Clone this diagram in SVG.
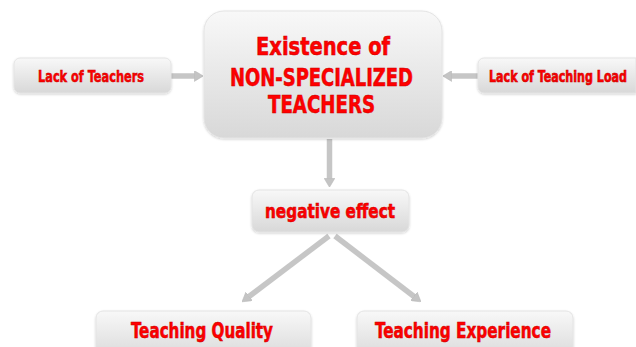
<svg xmlns="http://www.w3.org/2000/svg" width="636" height="347" viewBox="0 0 636 347">
  <defs>
    <linearGradient id="boxFill" x1="0" y1="0" x2="0" y2="1">
      <stop offset="0" stop-color="#f8f8f8"/>
      <stop offset="1" stop-color="#d8d8d8"/>
    </linearGradient>
    <filter id="soft" x="-5%" y="-5%" width="110%" height="115%">
      <feDropShadow dx="0" dy="1" stdDeviation="0.8" flood-color="#000" flood-opacity="0.18"/>
    </filter>
    <marker id="head" viewBox="0 0 10 12" refX="3" refY="6" markerWidth="9" markerHeight="11" markerUnits="userSpaceOnUse" orient="auto">
      <path d="M0,0 L10,6 L0,12 Z" fill="#c4c4c4" stroke="#b8b8b8" stroke-width="0.6"/>
    </marker>
  </defs>
  <style>
    .box { fill: url(#boxFill); stroke: #e4e4e4; stroke-width: 1; filter: url(#soft); }
    .lbl { font-family: "Liberation Sans Narrow", "DejaVu Sans Condensed", "Liberation Sans", sans-serif; font-weight: bold; fill: #ff0000; stroke: #c80000; stroke-width: 0.5; text-anchor: start; }
    .mid { text-anchor: middle; }
    .conn { stroke: #c6c6c6; stroke-width: 5.5; fill: none; marker-end: url(#head); }
  </style>

  <rect width="636" height="347" fill="#ffffff"/>

  <g id="connectors">
    <line class="conn" x1="171" y1="76" x2="197" y2="76"/>
    <line class="conn" x1="478" y1="76" x2="449" y2="76"/>
    <line class="conn" x1="329.5" y1="139" x2="329.5" y2="181"/>
    <line class="conn" x1="329" y1="236" x2="247" y2="298"/>
    <line class="conn" x1="335" y1="236" x2="416" y2="298"/>
  </g>

  <g id="main">
    <rect class="box" x="204" y="11" width="238" height="127" rx="20"/>
    <text class="lbl" x="256" y="55" font-size="24" textLength="134" lengthAdjust="spacingAndGlyphs">Existence of</text>
    <text class="lbl" x="230" y="86" font-size="24" textLength="183" lengthAdjust="spacingAndGlyphs">NON-SPECIALIZED</text>
    <text class="lbl" x="268" y="113" font-size="24" textLength="107" lengthAdjust="spacingAndGlyphs">TEACHERS</text>
  </g>

  <g id="lack-teachers">
    <rect class="box" x="14" y="58" width="157" height="35" rx="6"/>
    <text class="lbl" x="38" y="82" font-size="16" textLength="106" lengthAdjust="spacingAndGlyphs">Lack of Teachers</text>
  </g>

  <g id="lack-load">
    <!-- box runs on past the right edge, so only its left corners are rounded -->
    <path class="box" d="M484,58 H636 V93 H484 A6,6 0 0 1 478,87 V64 A6,6 0 0 1 484,58 Z"/>
    <text class="lbl mid" transform="translate(558,82) scale(1,1.18)" x="0" y="0" font-size="13.5" textLength="138" lengthAdjust="spacingAndGlyphs">Lack of Teaching  Load</text>
  </g>

  <g id="negative-effect">
    <rect class="box" x="252" y="190" width="157" height="42" rx="7"/>
    <text class="lbl" x="265" y="218" font-size="19" textLength="130" lengthAdjust="spacingAndGlyphs">negative  effect</text>
  </g>

  <g id="teaching-quality">
    <rect class="box" x="96" y="311" width="215" height="50" rx="7"/>
    <text class="lbl" x="131" y="338" font-size="21" textLength="142" lengthAdjust="spacingAndGlyphs">Teaching  Quality</text>
  </g>

  <g id="teaching-experience">
    <rect class="box" x="357" y="311" width="216" height="50" rx="7"/>
    <text class="lbl" x="375" y="338" font-size="21" textLength="176" lengthAdjust="spacingAndGlyphs">Teaching  Experience</text>
  </g>
</svg>
